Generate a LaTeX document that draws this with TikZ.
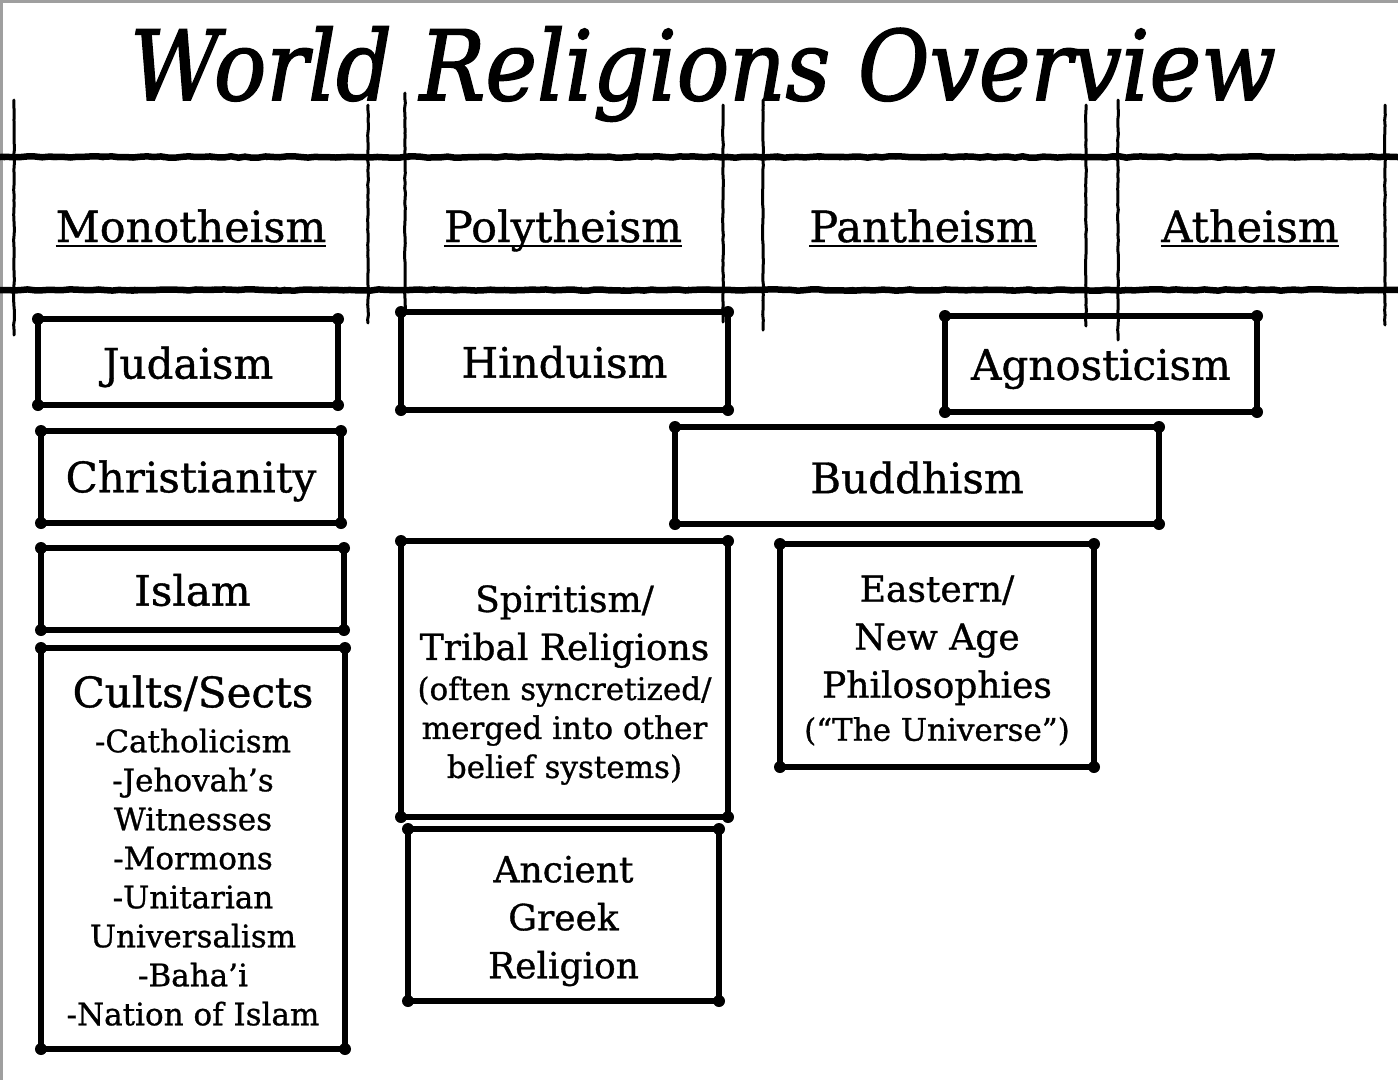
\documentclass[tikz,border=0pt]{standalone}
\usepackage{fontspec}
\setmainfont{DejaVu Serif}[FakeBold=0.9]
\newfontfamily\ttlfam{DejaVu Serif}[FakeBold=1.6, FakeStretch=0.9]
\usetikzlibrary{decorations.pathmorphing}
\newcommand\ttlfont{\ttlfam\itshape\fontsize{97}{110}\selectfont}
\newcommand\hdrfont{\fontsize{43}{50}\selectfont}
\newcommand\bigT{\fontsize{42}{48}\selectfont}
\newcommand\midT{\fontsize{36}{48}\selectfont}
\newcommand\smallT{\fontsize{31}{39}\selectfont}
\begin{document}
\begin{tikzpicture}[x=1pt,y=-1pt,
  rbox/.style={draw, line width=6pt, line join=round, outer sep=0pt, inner sep=0pt},
  txt/.style={align=center, inner sep=0pt},
  hdr/.style={font=\hdrfont, anchor=base, inner sep=0pt, outer sep=0pt},
  vrule/.style={line width=3pt, line cap=round, decorate, decoration={random steps, segment length=5pt, amplitude=0.4pt}},
  hrule/.style={line width=6.5pt, decorate, decoration={random steps, segment length=7pt, amplitude=0.7pt}},
  hrule2/.style={line width=2pt, decorate, decoration={random steps, segment length=4pt, amplitude=1.4pt}},
  knob/.style={fill=black}
]
\pgfmathsetseed{7}
\useasboundingbox (0,0) rectangle (1398,1080);
\fill[gray!75] (0,0) rectangle (1398,2.5);
\fill[gray!75] (0,0) rectangle (2.5,1080);

% title
\node[font=\ttlfont, anchor=base, inner sep=0pt] (title) at (703,100) {World Religions Overview};

% header grid
\draw[hrule] (0,157) -- (1398,157);
\draw[hrule2] (0,158) -- (1398,158);
\draw[hrule] (0,290) -- (1398,290);
\draw[hrule2] (0,289) -- (1398,289);
\draw[vrule] (14,100) -- (14,335);
\draw[vrule] (368,105) -- (368,323);
\draw[vrule] (405,93) -- (405,312);
\draw[vrule] (723,105) -- (723,322);
\draw[vrule] (763,100) -- (763,330);
\draw[vrule] (1086,105) -- (1086,326);
\draw[vrule] (1118,100) -- (1118,340);
\draw[vrule] (1385,105) -- (1385,325);

% headers
\node[hdr] (mono) at (191,242) {Monotheism};
\node[hdr] (poly) at (563,242) {Polytheism};
\node[hdr] (pan) at (923,242) {Pantheism};
\node[hdr] (ath) at (1250,242) {Atheism};
\foreach \h in {mono,poly,pan,ath}
  \draw[line width=2pt] ([yshift=-3.5pt]\h.base west) -- ([yshift=-3.5pt]\h.base east);

% boxes
\node[rbox, minimum width=300, minimum height=86] (jud) at (188,362) {};
\node[rbox, minimum width=300, minimum height=92] (chr) at (191,477) {};
\node[rbox, minimum width=303, minimum height=82] (isl) at (192.5,589) {};
\node[rbox, minimum width=304, minimum height=401] (cul) at (193,848.5) {};
\node[rbox, minimum width=327, minimum height=98] (hin) at (564.5,361) {};
\node[rbox, minimum width=312, minimum height=96] (agn) at (1101,364) {};
\node[rbox, minimum width=484, minimum height=97] (bud) at (917,475.5) {};
\node[rbox, minimum width=327, minimum height=276] (spi) at (564.5,679) {};
\node[rbox, minimum width=311, minimum height=172] (anc) at (563.5,915) {};
\node[rbox, minimum width=314, minimum height=223] (eas) at (937,655.5) {};

\foreach \n in {jud,chr,isl,cul,hin,agn,bud,spi,anc,eas}
  \foreach \a in {north west,north east,south west,south east}
    \fill[knob] (\n.\a) circle (6pt);

% texts
\node[txt, font=\bigT] (judT) at ([yshift=-5pt]jud.center) {Judaism};
\node[txt, font=\bigT] (chrT) at ([yshift=-4pt]chr.center) {Christianity};
\node[txt, font=\bigT] (islT) at ([yshift=-1pt]isl.center) {Islam};
\node[txt, font=\smallT] (culT) at ([yshift=-2pt]cul.center)
  {{\bigT Cults/Sects}\\[6pt] -Catholicism\\ -Jehovah’s\\ Witnesses\\ -Mormons\\ -Unitarian\\ Universalism\\ -Baha’i\\ -Nation of Islam};
\node[txt, font=\bigT] (hinT) at ([yshift=-1pt]hin.center) {Hinduism};
\node[txt, font=\bigT] (agnT) at ([yshift=-5pt]agn.center) {Agnosticism};
\node[txt, font=\bigT] (budT) at ([yshift=-2pt]bud.center) {Buddhism};
\node[txt, font=\midT] (spiT) at ([yshift=-6pt]spi.center)
  {Spiritism/\\ Tribal Religions\\[-8pt] {\smallT (often syncretized/}\\[-9pt] {\smallT merged into other}\\[-9pt] {\smallT belief systems)}};
\node[txt, font=\midT] (ancT) at ([yshift=-6pt]anc.center) {Ancient\\ Greek\\ Religion};
\node[txt, font=\midT] (easT) at ([yshift=-5pt]eas.center)
  {Eastern/\\ New Age\\ Philosophies\\[-5pt] {\smallT (“The Universe”)}};
\end{tikzpicture}
\end{document}
